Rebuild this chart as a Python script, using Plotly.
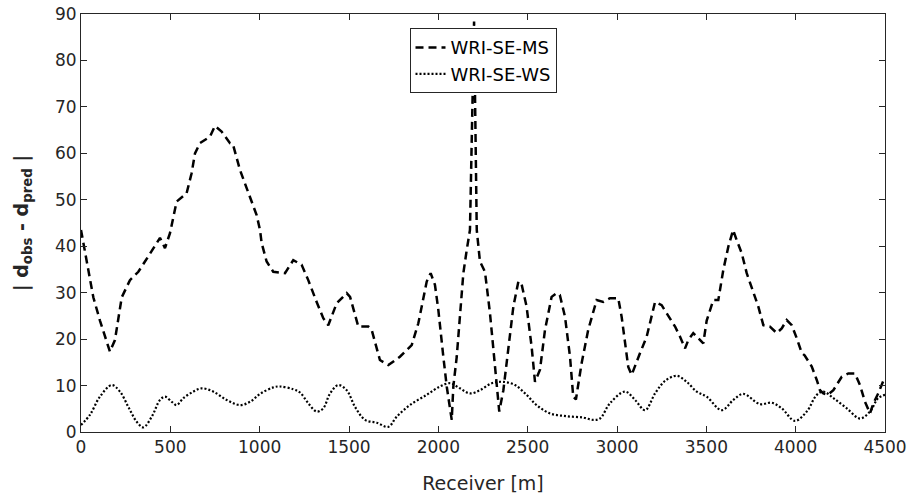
import plotly.graph_objects as go

# WRI-SE-MS (dashed)
ms_x = [0, 50, 69, 106, 134, 162, 190, 228, 274, 321, 358, 405, 442, 470, 498, 535, 591, 619, 638,
        666, 722, 750, 787, 834, 850, 890, 946, 983, 1002, 1011, 1039, 1076, 1142, 1188, 1235, 1272,
        1319, 1356, 1384, 1431, 1487, 1506, 1552, 1608, 1627, 1673, 1720, 1785, 1851, 1888, 1935,
        1957, 1981, 2000, 2028, 2047, 2075, 2084, 2103, 2121, 2140, 2159, 2177, 2200, 2215, 2233,
        2261, 2289, 2317, 2341, 2364, 2392, 2420, 2448, 2465, 2494, 2522, 2541, 2569, 2597, 2634,
        2662, 2680, 2709, 2737, 2755, 2770, 2802, 2839, 2886, 2923, 2961, 3007, 3026, 3045, 3063,
        3082, 3101, 3129, 3166, 3194, 3213, 3250, 3297, 3325, 3353, 3381, 3399, 3427, 3455, 3483,
        3502, 3539, 3567, 3595, 3623, 3650, 3670, 3698, 3726, 3763, 3791, 3819, 3856, 3894, 3922,
        3950, 3978, 4006, 4034, 4050, 4090, 4118, 4136, 4155, 4180, 4211, 4258, 4295, 4332, 4360,
        4388, 4416, 4435, 4462, 4500]
ms_y = [43.5, 33.4, 29, 24, 20.5, 17.3, 19.8, 29, 32.7, 34.5, 36.7, 39.5, 41.8, 39.6, 42.8, 49.6,
        51.4, 55.7, 60, 62.2, 63.6, 65.9, 64.7, 62.2, 62, 56.4, 50.7, 46.7, 43.5, 40.7, 36.7, 34.5,
        34.2, 37, 36, 32.7, 28, 24.5, 23, 27.7, 29.9, 29.1, 22.7, 22.7, 22, 15.5, 14.4, 16.2, 18.7,
        23.4, 32.4, 34.2, 31.7, 26.3, 16.2, 9.8, 2.6, 9.8, 16.2, 24.8, 34.2, 39.2, 43.5, 88.4, 43.5,
        36.7, 34.5, 25.6, 14.8, 4.4, 9, 18.4, 27, 32.4, 32, 27, 18.4, 10.8, 13.4, 22, 29.1, 29.9,
        29.5, 24.8, 16.2, 7.6, 7, 14.8, 22, 28.4, 28, 28.8, 28.8, 24.8, 19.8, 14, 12.3, 14.4, 17,
        20.5, 24.8, 28, 27.3, 24.5, 22.7, 20.5, 18, 19.8, 21.3, 20.2, 19.1, 24, 28.4, 28.4, 34.9,
        39.9, 43.5, 41.3, 38.5, 34.2, 30.2, 27, 23, 22.7, 21.3, 22.3, 24.1, 23, 20.2, 17, 16.5,
        14.1, 11.2, 9, 8.3, 8, 9, 11.9, 12.6, 12.6, 10.1, 6.5, 4, 6.2, 8.3, 11.9]

# WRI-SE-WS (dotted)
ws_x = [0, 50, 106, 172, 218, 265, 312, 349, 396, 442, 470, 508, 535, 573, 629, 675, 740, 815, 890,
        946, 1002, 1076, 1113, 1188, 1226, 1272, 1319, 1356, 1394, 1440, 1487, 1534, 1590, 1655,
        1720, 1767, 1841, 1935, 2009, 2065, 2121, 2177, 2233, 2299, 2364, 2429, 2494, 2550, 2625,
        2718, 2811, 2867, 2905, 2961, 3045, 3101, 3157, 3213, 3269, 3334, 3390, 3446, 3502, 3586,
        3651, 3707, 3800, 3866, 3922, 3996, 4062, 4118, 4155, 4211, 4286, 4360, 4416, 4462, 4500]
ws_y = [1.5, 3.7, 7.6, 10.1, 8.7, 5.4, 2.2, 1, 3.3, 6.9, 7.6, 6.5, 5.8, 7.3, 8.7, 9.4, 8.7, 6.9, 5.8,
        6.5, 8.2, 9.6, 9.8, 9.2, 8.5, 6.2, 4.4, 5.1, 8.3, 10.1, 9, 5.4, 2.6, 2, 1.1, 3.3, 5.8, 8,
        9.8, 10.5, 9.4, 8.3, 9, 10.5, 10.8, 10.1, 8, 5.8, 4, 3.4, 3.1, 2.6, 2.9, 6.2, 8.7, 6.9,
        4.7, 8.3, 11, 12.1, 10.8, 8.7, 7.6, 4.7, 6.9, 8.2, 6, 6.3, 5.1, 2.4, 4.4, 8, 8.7, 7.3,
        5.1, 2.9, 4.4, 7.3, 8]

x_ticks = [0, 500, 1000, 1500, 2000, 2500, 3000, 3500, 4000, 4500]
y_ticks = [0, 10, 20, 30, 40, 50, 60, 70, 80, 90]

font = "DejaVu Sans, sans-serif"
axis_col = "#262626"

fig = go.Figure()
fig.add_trace(go.Scatter(x=ms_x, y=ms_y, mode="lines", name="WRI-SE-MS",
                         line=dict(color="black", width=2.5, dash="8px,5px")))
fig.add_trace(go.Scatter(x=ws_x, y=ws_y, mode="lines", name="WRI-SE-WS", line_shape="spline",
                         line=dict(color="black", width=2.2, dash="2px,2px")))

axis_common = dict(showgrid=False, zeroline=False, showline=True, linecolor=axis_col, linewidth=1,
                   mirror="ticks", ticks="inside", ticklen=6, tickcolor=axis_col, automargin=False,
                   tickfont=dict(family=font, size=17, color=axis_col))
fig.update_xaxes(range=[0, 4500], tickvals=x_ticks,
                 title=dict(text="Receiver [m]", font=dict(family=font, size=19, color=axis_col),
                            standoff=20),
                 **axis_common)
fig.update_yaxes(range=[0, 90], tickvals=y_ticks,
                 title=dict(text="<b>| d<sub>obs</sub> - d<sub>pred</sub> |</b>",
                            font=dict(family=font, size=19, color=axis_col), standoff=21),
                 **axis_common)
fig.update_layout(
    width=909, height=499,
    margin=dict(l=81, r=24, t=14, b=67),
    plot_bgcolor="white", paper_bgcolor="white",
    showlegend=True,
    legend=dict(x=0.5, xanchor="center", y=0.966, yanchor="top",
                bgcolor="white", bordercolor=axis_col, borderwidth=1,
                font=dict(family=font, size=18, color="black"),
                tracegroupgap=0, itemwidth=30),
)
# drop the default body margin so the figure sits at the page corner
fig.write_html("out.html", config={"displayModeBar": False},
               post_script="document.body.style.margin='0';")
